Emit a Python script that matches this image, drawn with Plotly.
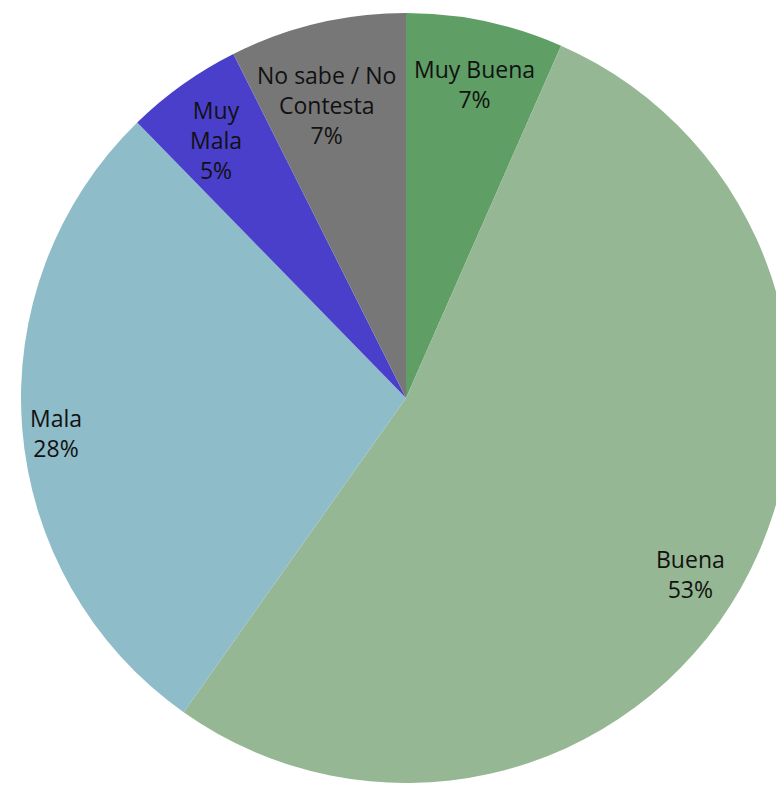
import plotly.graph_objects as go

labels = ["Muy Buena", "Buena", "Mala", "Muy Mala", "No sabe / No Contesta"]
values = [6.6, 53.2, 27.9, 4.9, 7.4]
colors = ["#5f9e65", "#96b793", "#8fbcc9", "#4a3fcb", "#777777"]
label_lines = ["Muy Buena", "Buena", "Mala", "Muy<br>Mala", "No sabe / No<br>Contesta"]
# annotation centre positions (pixels on screen)
label_px = [(474, 84), (690, 574), (56, 433), (216, 140), (326, 105)]

W, H = 784, 787
OFF = 8  # page body margin offset
total = sum(values)

fig = go.Figure(go.Pie(
    labels=labels,
    values=values,
    marker=dict(colors=colors, line=dict(width=0)),
    sort=False,
    direction="clockwise",
    rotation=0,
    textinfo="none",
    hoverinfo="label+percent",
    domain=dict(x=[0.0166, 0.9987], y=[0.0152, 0.9936]),
    showlegend=False,
))

annotations = []
for txt, v, (px, py) in zip(label_lines, values, label_px):
    annotations.append(dict(
        x=(px - OFF) / W, y=1 - (py - OFF) / H, xref="paper", yref="paper",
        xanchor="center", yanchor="middle",
        text=f"{txt}<br>{round(100 * v / total)}%",
        showarrow=False, align="center",
        font=dict(family="Open Sans", size=23, color="#111111"),
    ))

fig.update_layout(
    width=W, height=H,
    margin=dict(l=0, r=0, t=0, b=0),
    paper_bgcolor="white",
    annotations=annotations,
)

fig.write_html("out.html")
